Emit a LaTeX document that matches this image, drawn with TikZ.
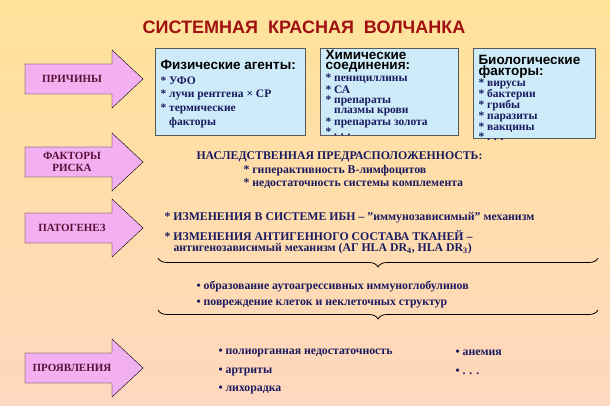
\documentclass[tikz,border=0pt]{standalone}
\usepackage{fontspec}
\setmainfont{Liberation Serif}
\newfontfamily\arialf{Liberation Sans}
\usetikzlibrary{decorations.pathreplacing}
\definecolor{navy}{HTML}{1A1A60}
\definecolor{dred}{HTML}{A01010}
\definecolor{maroon}{HTML}{5A1038}
\definecolor{pinkarr}{HTML}{F3B0F0}
\definecolor{boxbg}{HTML}{CDEBF8}
\newcommand{\blockarrow}[1]{\draw[black,fill=pinkarr] (25,#1-15) -- (112,#1-15) -- (112,#1-29) -- (143,#1) -- (112,#1+29) -- (112,#1+15) -- (25,#1+15) -- cycle;}
\tikzset{
 alab/.style={align=center,font=\bfseries\fontsize{11}{12.5}\selectfont,text=maroon},
 ibox/.style={draw=gray!70!black,fill=boxbg,anchor=north west,inner sep=0pt},
 hd/.style={font=\arialf\bfseries\fontsize{13.5}{13.5}\selectfont,text=black,anchor=west},
 it/.style={font=\bfseries\fontsize{11.8}{12}\selectfont,text=navy,anchor=west},
 bit/.style={font=\bfseries\fontsize{11.5}{12}\selectfont,text=navy,anchor=west},
 brc/.style={decorate,decoration={brace,mirror,amplitude=9pt},draw=black,thick}
}
\begin{document}
\begin{tikzpicture}[x=1pt,y=-1pt]
\shade[top color=yellow!45!orange!40!white,bottom color=red!25!orange!25!white] (0,0) rectangle (610,406);
\useasboundingbox (0,0) rectangle (610,406);
\node[font=\arialf\bfseries\fontsize{18}{18}\selectfont,text=dred] (title) at (304,27) {СИСТЕМНАЯ\ \ КРАСНАЯ\ \ ВОЛЧАНКА};
\blockarrow{79}\blockarrow{162}\blockarrow{228}\blockarrow{368}
\node[alab] (a1) at (72,79) {ПРИЧИНЫ};
\node[alab] (a2) at (72,162) {ФАКТОРЫ\\РИСКА};
\node[alab] (a3) at (72,228) {ПАТОГЕНЕЗ};
\node[alab] (a4) at (72,368) {ПРОЯВЛЕНИЯ};
\node[ibox,minimum width=150pt,minimum height=87pt] (b1) at (155,48) {};
\node[ibox,minimum width=138pt,minimum height=87pt] (b2) at (320,48) {};
\node[ibox,minimum width=122pt,minimum height=90pt] (b3) at (473,48) {};
\node[hd] (h1) at (157,65) {Физические агенты:};
\node[bit] (t11) at (157,81) {* УФО};
\node[bit] (t12) at (157,95) {* лучи рентгена × СР};
\node[bit] (t13) at (157,109) {* термические};
\node[bit] (t14) at (157,123) {\ \ \ факторы};
\node[hd] (h2) at (322,55) {Химические};
\node[hd] (h2b) at (322,67) {соединения:};
\node[bit] (t21) at (322,79) {* пенициллины};
\node[bit] (t22) at (322,90) {* СА};
\node[bit] (t23) at (322,101) {* препараты};
\node[bit] (t24) at (322,112) {\ \ \ плазмы крови};
\node[bit] (t25) at (322,123) {* препараты золота};
\node[bit] (t26) at (322,132) {* . . .};
\node[hd] (h3) at (475,60) {Биологические};
\node[hd] (h3b) at (475,72) {факторы:};
\node[bit] (t31) at (475,84) {* вирусы};
\node[bit] (t32) at (475,95) {* бактерии};
\node[bit] (t33) at (475,106) {* грибы};
\node[bit] (t34) at (475,117) {* паразиты};
\node[bit] (t35) at (475,128) {* вакцины};
\node[bit] (t36) at (475,137) {* . . .};
\node[it] (r1) at (193,157) {НАСЛЕДСТВЕННАЯ ПРЕДРАСПОЛОЖЕННОСТЬ:};
\node[it] (r2) at (240,171) {* гиперактивность В-лимфоцитов};
\node[it] (r3) at (240,184) {* недостаточность системы комплемента};
\node[it] (p1) at (161,218) {* ИЗМЕНЕНИЯ В СИСТЕМЕ ИБН – "иммунозависимый" механизм};
\node[it] (p2) at (161,236) {* ИЗМЕНЕНИЯ АНТИГЕННОГО СОСТАВА ТКАНЕЙ –};
\node[it] (p3) at (170,249) {антигенозависимый механизм (АГ HLA DR$_{\mathbf 4}$, HLA DR$_{\mathbf 3}$)};
\coordinate (c1) at (158,258); \coordinate (c2) at (598,258);
\draw[brc] (c1) -- (c2);
\node[it] (q1) at (193,287) {• образование аутоагрессивных иммуноглобулинов};
\node[it] (q2) at (193,304) {• повреждение клеток и неклеточных структур};
\coordinate (d1) at (158,310); \coordinate (d2) at (598,310);
\draw[brc] (d1) -- (d2);
\node[it] (m1) at (215,353) {• полиорганная недостаточность};
\node[it] (m2) at (215,372) {• артриты};
\node[it] (m3) at (215,390) {• лихорадка};
\node[it] (m4) at (452,353) {• анемия};
\node[it] (m5) at (452,372) {• . . .};
\end{tikzpicture}
\end{document}
